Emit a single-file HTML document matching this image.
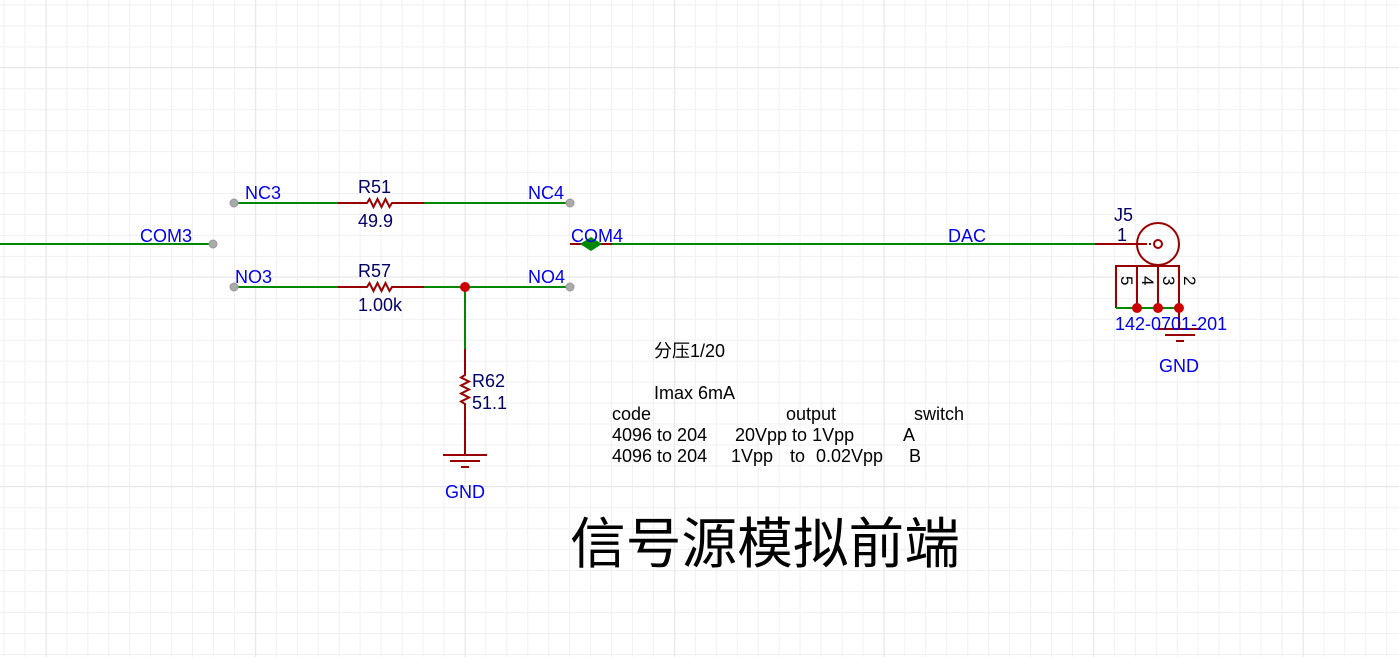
<!DOCTYPE html>
<html><head><meta charset="utf-8"><style>
html,body{margin:0;padding:0;background:#fff;}
svg{display:block;}
text{font-family:"Liberation Sans","Noto Sans CJK SC",sans-serif;}
</style></head><body>
<svg width="1399" height="657" viewBox="0 0 1399 657" xmlns="http://www.w3.org/2000/svg">
<defs>
<pattern id="g" x="3.5" y="4.5" width="20.95" height="20.95" patternUnits="userSpaceOnUse">
<path d="M0 0V21M0 0H21" stroke="#f0f0f0" stroke-width="2" fill="none"/>
</pattern>
<pattern id="G" x="45.7" y="67" width="209.5" height="209.5" patternUnits="userSpaceOnUse">
<path d="M0 0V210M0 0H210" stroke="#e6e6e6" stroke-width="2" fill="none"/>
</pattern>
</defs>
<rect width="1399" height="657" fill="#fff"/>
<rect width="1399" height="657" fill="url(#g)"/>
<rect width="1399" height="657" fill="url(#G)"/>

<g stroke-width="2" fill="none">
<line x1="0" y1="244" x2="213" y2="244" stroke="#008800"/>
<line x1="234" y1="203" x2="338" y2="203" stroke="#008800"/>
<line x1="424" y1="203" x2="570" y2="203" stroke="#008800"/>
<path d="M338 203H367l2.5-4 4 8 4-8 4 8 4-8 4 8 2.5-4H424" stroke="#990000"/>
<line x1="234" y1="287" x2="338" y2="287" stroke="#008800"/>
<line x1="424" y1="287" x2="570" y2="287" stroke="#008800"/>
<path d="M338 287H367l2.5-4 4 8 4-8 4 8 4-8 4 8 2.5-4H424" stroke="#990000"/>
<line x1="465" y1="287" x2="465" y2="349" stroke="#008800"/>
<path d="M465 349V375l-4 2.5 8 4-8 4 8 4-8 4 8 4-8 4 4 2.5V455" stroke="#990000"/>
<line x1="443" y1="455" x2="487" y2="455" stroke="#990000"/>
<line x1="450" y1="461" x2="480" y2="461" stroke="#990000"/>
<line x1="461" y1="467" x2="469" y2="467" stroke="#990000"/>
<line x1="570" y1="244" x2="612" y2="244" stroke="#990000"/>
<line x1="612" y1="244" x2="1095" y2="244" stroke="#008800"/>
<line x1="1095" y1="244" x2="1145" y2="244" stroke="#990000"/>
<line x1="1145" y1="244" x2="1153" y2="244" stroke="#990000" stroke-dasharray="2 2"/>
<circle cx="1158" cy="244" r="21" stroke="#990000"/>
<circle cx="1158" cy="244" r="4" stroke="#990000"/>
<path d="M1116 308V266H1179V308" stroke="#990000"/>
<line x1="1137" y1="266" x2="1137" y2="308" stroke="#990000"/>
<line x1="1158" y1="266" x2="1158" y2="308" stroke="#990000"/>
<line x1="1116" y1="308" x2="1179" y2="308" stroke="#008800"/>
<line x1="1179" y1="308" x2="1179" y2="329" stroke="#990000"/>
<line x1="1158" y1="329" x2="1201" y2="329" stroke="#990000"/>
<line x1="1165" y1="335" x2="1195" y2="335" stroke="#990000"/>
<line x1="1176" y1="341" x2="1184" y2="341" stroke="#990000"/>
</g>
<polygon points="580,244 591,237 602,244 591,251" fill="#008800"/>
<g fill="#aaa" stroke="#999" stroke-width="1">
<circle cx="234" cy="203" r="4"/><circle cx="570" cy="203" r="4"/>
<circle cx="213" cy="244" r="4"/>
<circle cx="234" cy="287" r="4"/><circle cx="570" cy="287" r="4"/>
</g>
<g fill="#cc0000">
<circle cx="465" cy="287" r="5"/>
<circle cx="1137" cy="308" r="5"/><circle cx="1158" cy="308" r="5"/><circle cx="1179" cy="308" r="5"/>
</g>

<g font-size="18" fill="#0000ee">
<text x="245" y="199">NC3</text>
<text x="528" y="199">NC4</text>
<text x="140" y="242">COM3</text>
<text x="571" y="242">COM4</text>
<text x="235" y="283">NO3</text>
<text x="528" y="283">NO4</text>
<text x="948" y="242">DAC</text>
<text x="445" y="498">GND</text>
<text x="1115" y="330">142-0701-201</text>
<text x="1159" y="372">GND</text>
</g>
<g font-size="18" fill="#000066">
<text x="358" y="193">R51</text>
<text x="358" y="227">49.9</text>
<text x="358" y="277">R57</text>
<text x="358" y="311">1.00k</text>
<text x="472" y="387">R62</text>
<text x="472" y="409">51.1</text>
<text x="1114" y="221">J5</text>
<text x="1117" y="241">1</text>
</g>
<g font-size="17" fill="#000">
<text transform="translate(1121,276) rotate(90)">5</text>
<text transform="translate(1142,276) rotate(90)">4</text>
<text transform="translate(1163,276) rotate(90)">3</text>
<text transform="translate(1184,276) rotate(90)">2</text>
</g>
<g font-size="18" fill="#000">
<text x="654" y="357">分压1/20</text>
<text x="654" y="399">Imax 6mA</text>
<text x="612" y="420">code</text>
<text x="786" y="420">output</text>
<text x="914" y="420">switch</text>
<text x="612" y="441">4096 to 204</text>
<text x="735" y="441">20Vpp to 1Vpp</text>
<text x="903" y="441">A</text>
<text x="612" y="462">4096 to 204</text>
<text x="731" y="462">1Vpp</text>
<text x="790" y="462">to</text>
<text x="816" y="462">0.02Vpp</text>
<text x="909" y="462">B</text>
</g>
<text x="570" y="563" font-size="55" fill="#000" textLength="390" lengthAdjust="spacingAndGlyphs">信号源模拟前端</text>
</svg>
</body></html>
